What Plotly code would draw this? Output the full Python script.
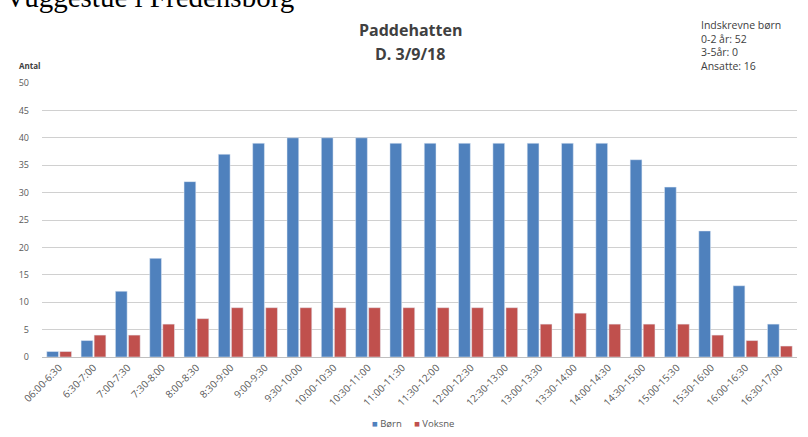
import plotly.graph_objects as go

categories = ["06:00-6:30", "6:30-7:00", "7:00-7:30", "7:30-8:00", "8:00-8:30", "8:30-9:00",
              "9:00-9:30", "9:30-10:00", "10:00-10:30", "10:30-11:00", "11:00-11:30",
              "11:30-12:00", "12:00-12:30", "12:30-13:00", "13:00-13:30", "13:30-14:00",
              "14:00-14:30", "14:30-15:00", "15:00-15:30", "15:30-16:00", "16:00-16:30",
              "16:30-17:00"]
born = [1, 3, 12, 18, 32, 37, 39, 40, 40, 40, 39, 39, 39, 39, 39, 39, 39, 36, 31, 23, 13, 6]
voksne = [1, 4, 4, 6, 7, 9, 9, 9, 9, 9, 9, 9, 9, 9, 6, 8, 6, 6, 6, 4, 3, 2]
y_ticks = [0, 5, 10, 15, 20, 25, 30, 35, 40, 45, 50]
series_names = ["Børn", "Voksne"]
colors = ["#4F81BD", "#C0504D"]

fig = go.Figure()
fig.add_trace(go.Bar(name=series_names[0], x=categories, y=born, marker_color=colors[0]))
fig.add_trace(go.Bar(name=series_names[1], x=categories, y=voksne, marker_color=colors[1]))

legend_text = (f"<span style='color:{colors[0]}'>■</span> {series_names[0]}     "
               f"<span style='color:{colors[1]}'>■</span> {series_names[1]}")

PT, PH, PL, PW = 83, 274, 42, 755  # plot area (px) used for placing annotations


def px_x(x):
    return (x - PL) / PW


def px_y(y):
    return (PT + PH - y) / PH


fig.update_layout(
    width=808, height=437,
    margin=dict(l=PL, r=808 - PL - PW, t=PT, b=437 - PT - PH),
    paper_bgcolor="white", plot_bgcolor="white",
    barmode="group", bargap=0.24, bargroupgap=0.1,
    font=dict(family="Open Sans", color="#595959"),
    showlegend=False,
    xaxis=dict(type="category", tickangle=-45, tickfont=dict(size=10, color="#595959"),
               showline=True, linecolor="#BFBFBF", linewidth=1, showgrid=False,
               ticks="", automargin=False),
    yaxis=dict(range=[0, 50], tickvals=y_ticks, tickfont=dict(size=9, color="#595959"),
               showgrid=True, gridcolor="#D0D0D0", gridwidth=1, zeroline=False,
               showline=False, ticks="", ticklabelstandoff=12, automargin=False),
    annotations=[
        dict(text="Vuggestue i Fredensborg", xref="paper", yref="paper", x=px_x(3), y=px_y(-3),
             xanchor="left", yanchor="middle", yshift=0, showarrow=False,
             font=dict(family="Liberation Serif", size=29, color="black")),
        dict(text="<b>Paddehatten</b>", xref="paper", yref="paper",
             x=px_x(410), y=px_y(30), xanchor="center", yanchor="middle", showarrow=False,
             font=dict(family="Open Sans", size=16, color="#404040")),
        dict(text="<b>D. 3/9/18</b>", xref="paper", yref="paper",
             x=px_x(410), y=px_y(54), xanchor="center", yanchor="middle", showarrow=False,
             font=dict(family="Open Sans", size=16, color="#404040")),
        dict(text="Indskrevne børn<br>0-2 år: 52<br>3-5år: 0<br>Ansatte: 16", xref="paper",
             yref="paper", x=px_x(699), y=px_y(45), xanchor="left",
             yanchor="middle", showarrow=False, align="left",
             font=dict(family="Open Sans", size=10.5, color="#404040")),
        dict(text="<b>Antal</b>", xref="paper", yref="paper", x=px_x(17),
             y=px_y(65), xanchor="left", yanchor="middle", showarrow=False,
             font=dict(family="Open Sans", size=8, color="#404040")),
        dict(text=legend_text, xref="paper", yref="paper", x=px_x(370),
             y=px_y(423), xanchor="left", yanchor="middle", showarrow=False,
             font=dict(family="Open Sans", size=9.5, color="#595959")),
    ],
)

fig.write_html("out.html", config={"displayModeBar": False},
               post_script="document.body.style.margin='0';")
